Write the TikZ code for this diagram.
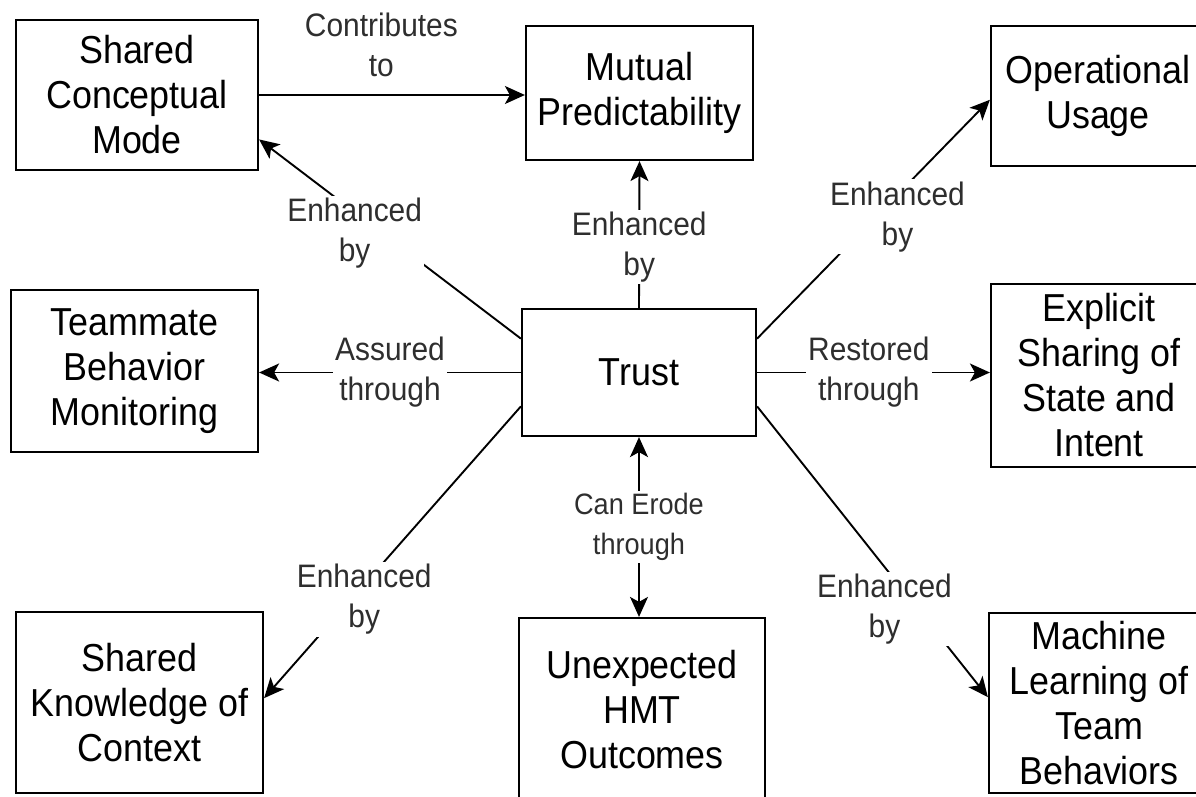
\documentclass[tikz,border=0pt]{standalone}
\usepackage{fontspec}
\setmainfont{Liberation Sans}[FakeStretch=0.92]
\usetikzlibrary{arrows.meta}
\begin{document}
\begin{tikzpicture}[x=1pt,y=-1pt,
  box/.style={draw=black, line width=2.2pt, align=center, inner sep=0pt,
    font=\fontsize{39}{45}\selectfont, text=black},
  lab/.style={fill=white, align=center, inner sep=2pt,
    font=\fontsize{32.5}{40}\selectfont, text=black!82},
  smalllab/.style={lab, font=\fontsize{29.5}{40}\selectfont},
  conn/.style={line width=1.9pt, draw=black},
  tip/.style={-{Stealth[length=20pt,width=18pt,inset=5pt]}},
  twotips/.style={{Stealth[length=20pt,width=18pt,inset=5pt]}-{Stealth[length=20pt,width=18pt,inset=5pt]}}
]
\useasboundingbox (0,0) rectangle (1196,797);
\fill[white] (0,0) rectangle (1196,797);
\clip (0,0) rectangle (1196,797);

% boxes
\node[box, minimum width=242pt, minimum height=150pt] (scm) at (137,95) {Shared\\Conceptual\\Mode};
\node[box, minimum width=227pt, minimum height=134pt] (mp) at (639.5,93) {Mutual\\Predictability};
\node[box, minimum width=214pt, minimum height=140pt] (ou) at (1098,96) {Operational\\Usage};
\node[box, minimum width=247pt, minimum height=162pt] (tbm) at (134.5,371) {Teammate\\Behavior\\Monitoring};
\node[box, minimum width=234pt, minimum height=127pt] (trust) at (639,372.5) {Trust};
\node[box, minimum width=216pt, minimum height=183pt] (essi) at (1099,375.5) {Explicit\\Sharing of\\State and\\Intent};
\node[box, minimum width=247pt, minimum height=181pt] (skc) at (139.5,702.5) {Shared\\Knowledge of\\Context};
\node[box, minimum width=246pt, minimum height=184pt] (uho) at (642,710) {Unexpected\\HMT\\Outcomes};
\node[box, minimum width=220pt, minimum height=180pt] (mltb) at (1099,703) {Machine\\Learning of\\Team\\Behaviors};

% connectors
\draw[conn, tip] (scm.east) -- (scm.east -| mp.west)
  node[lab, fill=none, pos=0.46, yshift=50] {Contributes\\to};
\draw[conn, tip] (trust.north) -- (mp.south)
  node[lab, pos=0.416] {Enhanced\\by};
\draw[conn, tip] (trust.164) -- (scm.340)
  node[lab, pos=0.635, yshift=-21] {Enhanced\\by};
\draw[conn, tip] (trust.16) -- (ou.182)
  node[lab, pos=0.603, yshift=-22] {Enhanced\\by};
\draw[conn, tip] (trust.west) -- (trust.west -| tbm.east)
  node[lab, pos=0.5] {Assured\\through};
\draw[conn, tip] (trust.east) -- (trust.east -| essi.west)
  node[lab, pos=0.48] {Restored\\through};
\draw[conn, tip] (trust.196) -- (skc.2)
  node[lab, pos=0.61, yshift=-15] {Enhanced\\by};
\draw[conn, tip] (trust.344) -- (mltb.177)
  node[lab, pos=0.552, yshift=-42] {Enhanced\\by};
\draw[conn, twotips] (trust.south) -- (trust.south |- uho.north)
  node[smalllab, pos=0.5] {Can Erode\\through};
\end{tikzpicture}
\end{document}
